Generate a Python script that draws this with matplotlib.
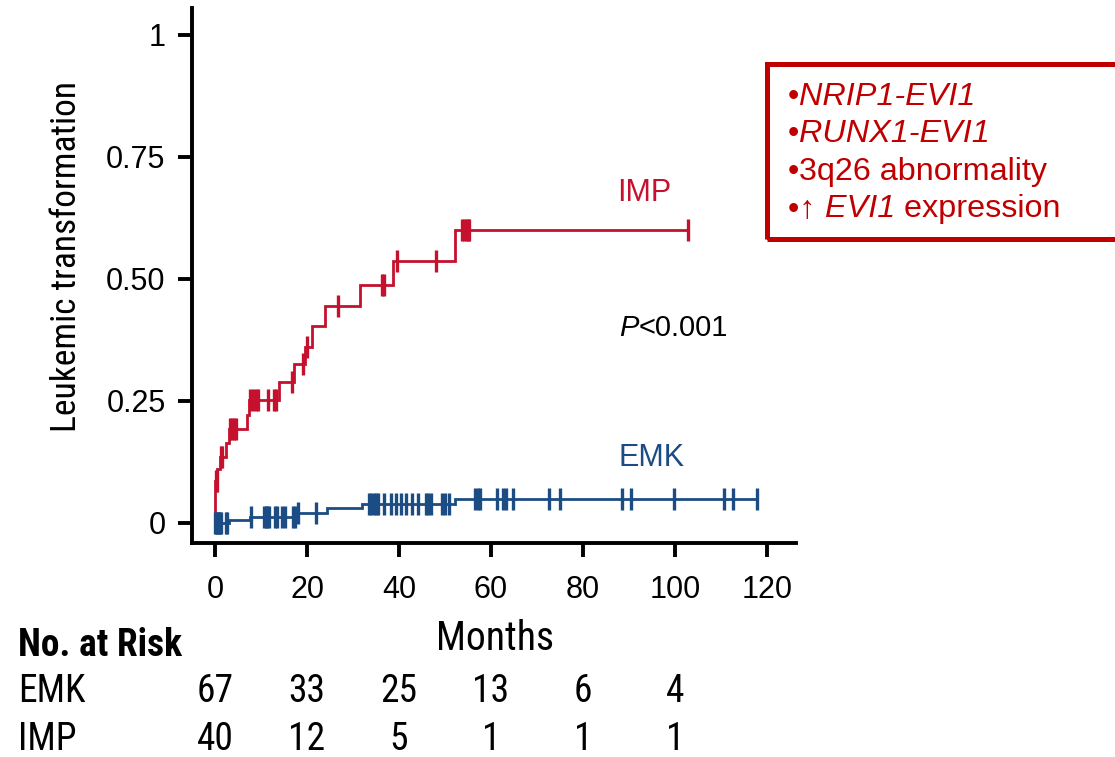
import matplotlib
matplotlib.use('Agg')
import matplotlib.pyplot as plt
import numpy as np
from matplotlib import font_manager
from matplotlib.transforms import blended_transform_factory
from matplotlib.patches import Rectangle

# ---------------- data ----------------
imp_times = [0, 0.5, 1.0, 2.4, 3.0, 6.9, 7.3, 14.0, 17.2, 19.5, 21.1, 24.0, 31.6, 38.6, 52.1]
imp_values = [0.085, 0.11, 0.135, 0.163, 0.192, 0.221, 0.252, 0.288, 0.325, 0.361,
              0.404, 0.445, 0.488, 0.537, 0.60]
imp_censor = [0.15, 0.35, 1.2, 1.6, 3.3, 3.7, 4.1, 4.5, 7.7, 8.2, 8.9, 9.3, 11.5, 12.9,
              13.3, 16.7, 19.2, 19.9, 26.8, 36.2, 36.7, 39.5, 48.0, 53.7, 54.1, 54.5,
              54.9, 55.3, 102.8]

emk_times = [3.0, 7.6, 17.8, 24.3, 31.9, 52.2]
emk_values = [0.006, 0.013, 0.021, 0.030, 0.038, 0.049]
emk_censor = [0.1, 0.3, 0.5, 0.7, 0.9, 1.1, 1.3, 2.3, 2.7, 7.8, 10.6, 11.0, 11.4, 11.8,
              13.1, 13.5, 14.6, 15.2, 16.9, 17.3, 18.0, 22.0, 33.5, 34.0, 34.5, 35.0,
              35.5, 36.8, 38.2, 39.3, 40.4, 41.5, 42.8, 44.2, 45.9, 46.4, 46.9, 49.3,
              50.0, 50.9, 56.6, 57.1, 57.7, 61.2, 62.6, 63.3, 64.7, 72.7, 74.9, 88.4,
              90.4, 99.8, 110.7, 112.5, 117.9]

x_ticks = [0, 20, 40, 60, 80, 100, 120]
y_ticks = [0, 0.25, 0.50, 0.75, 1]
y_tick_labels = ['0', '0.25', '0.50', '0.75', '1']
risk_times = [0, 20, 40, 60, 80, 100]
risk_emk = [67, 33, 25, 13, 6, 4]
risk_imp = [40, 12, 5, 1, 1, 1]
box_lines = [
    [('\u2022', 'normal'), ('NRIP1-EVI1', 'italic')],
    [('\u2022', 'normal'), ('RUNX1-EVI1', 'italic')],
    [('\u2022', 'normal'), ('3q26 abnormality', 'normal')],
    [('\u2022\u2191 ', 'normal'), ('EVI1', 'italic'), (' expression', 'normal')],
]

RED = '#C5102E'
BLUE = '#1C4C84'
BOXRED = '#C00000'

# ---------------- fonts ----------------
names = {f.name for f in font_manager.fontManager.ttflist}
narrow_candidates = ['Liberation Sans Narrow', 'Arial Narrow', 'Nimbus Sans Narrow',
                     'Roboto Condensed', 'Open Sans Condensed']
narrow_found = [n for n in narrow_candidates if n in names]
REG = ['Liberation Sans', 'DejaVu Sans']
if narrow_found:
    NARROW = [narrow_found[0], 'Liberation Sans', 'DejaVu Sans']
    nscale = 1.0
else:
    NARROW = REG
    nscale = 0.82
plt.rcParams['font.family'] = REG

W, H = 1115, 757
fig = plt.figure(figsize=(W / 100, H / 100), dpi=100)
ax = fig.add_axes([192 / W, 1 - 543 / H, (796 - 192) / W, (543 - 8) / H])
ax.set_xlim(-5, 126.3)
ax.set_ylim(-0.041, 1.055)


def step_xy(t, v, end):
    x = np.concatenate([[0], t, [end]])
    y = np.concatenate([[0], v, [v[-1]]])
    return x, y


def level_at(t, v, tc):
    t = np.asarray(t)
    v = np.asarray(v)
    idx = np.searchsorted(t, np.asarray(tc), side='right') - 1
    return np.where(idx >= 0, v[np.clip(idx, 0, None)], 0.0)


for times, values, cens, col in [(imp_times, imp_values, imp_censor, RED),
                                 (emk_times, emk_values, emk_censor, BLUE)]:
    x, y = step_xy(times, values, max(cens))
    ax.step(x, y, where='post', color=col, lw=2.0, solid_joinstyle='miter')
    ax.plot(cens, level_at(times, values, cens), ls='none', marker='|', ms=16,
            mew=2.4, color=col)

for s in ['top', 'right']:
    ax.spines[s].set_visible(False)
for s in ['left', 'bottom']:
    ax.spines[s].set_linewidth(2.8)
ax.set_xticks(x_ticks)
ax.set_yticks(y_ticks)
ax.set_yticklabels(y_tick_labels)
ax.tick_params(axis='both', direction='out', length=10, width=2.8, labelsize=22,
               colors='black')
ax.tick_params(axis='x', pad=13)
ax.tick_params(axis='y', pad=9)

ax.text(93.3, 0.676, 'IMP', color=RED, fontsize=22, ha='center', va='center')
ax.text(94.8, 0.133, 'EMK', color=BLUE, fontsize=22, ha='center', va='center')

renderer = fig.canvas.get_renderer()


def text_width(s, **kw):
    t1 = fig.text(0, 0, s + '|', **kw)
    t2 = fig.text(0, 0, '|', **kw)
    w = t1.get_window_extent(renderer).width - t2.get_window_extent(renderer).width
    t1.remove()
    t2.remove()
    return w


def rich_text(x_px, y_px, pieces, size, color):
    cur = x_px
    for s, style in pieces:
        kw = dict(fontsize=size, color=color, style=style, family=REG)
        fig.text(cur / W, 1 - y_px / H, s, ha='left', va='baseline', **kw)
        cur += text_width(s, **kw)


rich_text(619, 336, [('P', 'italic'), ('<0.001', 'normal')], 21, 'black')

# annotation box
fig.add_artist(Rectangle((767 / W, 1 - 239 / H), (1130 - 767) / W, (239 - 64) / H,
                         transform=fig.transFigure, fill=False, ec=BOXRED, lw=3.6,
                         clip_on=False))
for i, line in enumerate(box_lines):
    rich_text(788, 105 + 37.3 * i, line, 23.3, BOXRED)

# axis labels
fig.text(67 / W, 1 - 256 / H, 'Leukemic transformation', rotation=90, ha='center',
         va='center', fontsize=25.5 * nscale, family=NARROW)
fig.text(495 / W, 1 - 638 / H, 'Months', ha='center', va='center',
         fontsize=28.5 * nscale, family=NARROW)

# risk table
fig.text(18 / W, 1 - 645 / H, 'No. at Risk', ha='left', va='center',
         fontsize=27 * nscale, family=NARROW, weight='bold')
tr = blended_transform_factory(ax.transData, fig.transFigure)
for label, vals, ypx in [('EMK', risk_emk, 692), ('IMP', risk_imp, 740)]:
    fig.text(18 / W, 1 - ypx / H, label, ha='left', va='center',
             fontsize=27 * nscale, family=NARROW)
    for t, n in zip(risk_times, vals):
        ax.text(t, 1 - ypx / H, str(n), transform=tr, ha='center', va='center',
                fontsize=27 * nscale, family=NARROW, clip_on=False)

fig.savefig('out.png', dpi=100)
